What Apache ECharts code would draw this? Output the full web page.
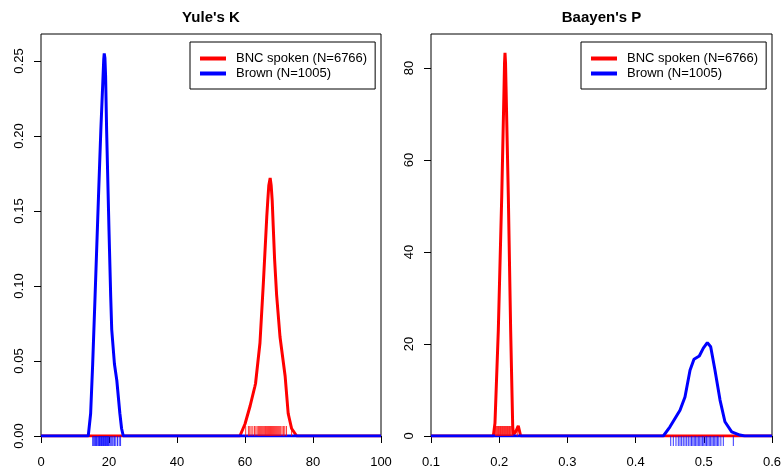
<!DOCTYPE html>
<html>
<head>
<meta charset="utf-8">
<script src="https://cdn.jsdelivr.net/npm/echarts@6/dist/echarts.min.js"></script>
<style>html,body{margin:0;padding:0;background:#fff}#c{width:783px;height:467px}</style>
</head>
<body>
<div id="c"></div>
<script>
// ---- Data ----
const seriesNames = ['BNC spoken (N=6766)', 'Brown (N=1005)'];
const panelTitles = ["Yule's K", "Baayen's P"];

// Yule's K densities
const yuleBncX = [0, 58.5, 60.0, 61.5, 62.9, 63.1, 64.4, 65.4, 65.9, 66.4, 66.7, 67.0, 67.4, 67.7, 68.0, 68.3, 68.7, 69.3, 70.3, 71.8, 72.7, 73.7, 75.2, 100];
const yuleBncY = [0, 0, 0.008, 0.020, 0.033, 0.035, 0.062, 0.102, 0.124, 0.146, 0.157, 0.167, 0.172, 0.167, 0.157, 0.140, 0.118, 0.094, 0.066, 0.040, 0.015, 0.005, 0, 0];
const yuleBrownX = [0, 13.9, 14.6, 15.2, 15.9, 16.9, 17.6, 18.2, 18.45, 18.6, 18.8, 19.0, 19.3, 20.0, 20.5, 20.8, 21.6, 22.3, 23.2, 23.7, 24.2, 100];
const yuleBrownY = [0, 0, 0.015, 0.048, 0.093, 0.159, 0.204, 0.237, 0.251, 0.255, 0.252, 0.240, 0.204, 0.137, 0.093, 0.071, 0.048, 0.037, 0.015, 0.005, 0, 0];

// Baayen's P densities
const baayenBncX = [0.1, 0.1914, 0.1938, 0.1987, 0.2037, 0.207, 0.2078, 0.2085, 0.2093, 0.210, 0.2134, 0.2168, 0.2198, 0.221, 0.2245, 0.228, 0.2315, 0.6];
const baayenBncY = [0, 0, 2.8, 23, 52, 75, 81, 83.3, 81, 76, 52, 23, 2, 0.3, 1.0, 2.2, 0, 0];
const baayenBrownX = [0.1, 0.4406, 0.4504, 0.4651, 0.4724, 0.4798, 0.4856, 0.4934, 0.4993, 0.5052, 0.5101, 0.5164, 0.5238, 0.531, 0.5409, 0.553, 0.56, 0.6];
const baayenBrownY = [0, 0, 2, 5.6, 8.5, 14.3, 16.7, 17.4, 19.1, 20.3, 19.4, 14.3, 7.8, 3.1, 0.9, 0.2, 0, 0];

// Rug values
const yuleBncRug = [60.2, 61.0, 61.4, 61.8, 62.3, 62.8, 63.2, 63.6, 64.0, 64.3, 64.6, 64.9, 65.2, 65.5, 65.8, 66.0, 66.3, 66.6, 66.9, 67.2, 67.5, 67.8, 68.1, 68.4, 68.7, 69.0, 69.3, 69.6, 69.9, 70.2, 70.5, 70.9, 71.3, 71.7, 72.2, 73.7];
const yuleBrownRug = [15.2, 15.5, 15.8, 16.0, 16.3, 16.5, 16.8, 17.0, 17.2, 17.4, 17.6, 17.8, 18.0, 18.2, 18.4, 18.6, 18.8, 19.0, 19.2, 19.4, 19.6, 19.8, 20.0, 20.3, 20.6, 20.9, 21.2, 21.6, 22.0, 22.5, 23.0, 23.4];
const baayenBncRug = [0.1945, 0.196, 0.1975, 0.199, 0.200, 0.201, 0.202, 0.203, 0.204, 0.205, 0.206, 0.207, 0.208, 0.209, 0.210, 0.211, 0.212, 0.213, 0.214, 0.215, 0.216, 0.217, 0.2185, 0.220, 0.2265];
const baayenBrownRug = [0.4515, 0.4553, 0.4592, 0.4626, 0.4651, 0.4675, 0.4699, 0.4724, 0.4749, 0.4773, 0.4798, 0.482, 0.484, 0.486, 0.488, 0.490, 0.492, 0.494, 0.496, 0.498, 0.500, 0.502, 0.504, 0.506, 0.508, 0.510, 0.512, 0.514, 0.516, 0.518, 0.520, 0.522, 0.525, 0.5286, 0.5433];

// Axis ticks
const yuleXTicks = [0, 20, 40, 60, 80, 100];
const yuleYTicks = [0, 0.05, 0.10, 0.15, 0.20, 0.25];
const baayenXTicks = [0.1, 0.2, 0.3, 0.4, 0.5, 0.6];
const baayenYTicks = [0, 20, 40, 60, 80];

// ---- Chart ----
const FONT = "'Liberation Sans', Arial, Helvetica, sans-serif";
const RED = '#ff0000', BLUE = '#0000ff';
const zip = (xs, ys) => xs.map((x, i) => [x, ys[i]]);

function xAxisCfg(grid, min, max, ticks, fmt) {
  return {
    type: 'value', gridIndex: grid, min: min, max: max,
    splitLine: {show: false},
    axisLine: {show: false},
    axisTick: {show: true, length: 7, customValues: ticks, lineStyle: {color: '#000'}},
    axisLabel: {customValues: ticks, formatter: fmt, margin: 20, fontSize: 13, color: '#000', fontFamily: FONT, hideOverlap: false}
  };
}
function yAxisCfg(grid, min, max, ticks, fmt) {
  return {
    type: 'value', gridIndex: grid, min: min, max: max,
    splitLine: {show: false},
    axisLine: {show: false},
    axisTick: {show: true, length: 7, customValues: ticks, lineStyle: {color: '#000'}},
    axisLabel: {customValues: ticks, formatter: fmt, rotate: 90, margin: 15, fontSize: 13, color: '#000', fontFamily: FONT, hideOverlap: false}
  };
}
function lineS(name, xi, data, color) {
  return {type: 'line', name: name, xAxisIndex: xi, yAxisIndex: xi, data: data, symbol: 'none', showSymbol: false,
    lineStyle: {color: color, width: 3}, itemStyle: {color: color}, silent: true, animation: false, clip: true};
}
function rugS(name, xi, vals, color, up) {
  return {type: 'scatter', name: name, xAxisIndex: xi, yAxisIndex: xi, data: vals.map(v => [v, 0]),
    symbol: 'rect', symbolSize: [1, 10], symbolOffset: [0, up ? -5 : 5],
    itemStyle: {color: color}, silent: true, animation: false, clip: false, z: 3};
}
function legendCfg(left) {
  return {
    data: seriesNames.map(n => ({name: n, icon: 'rect'})), orient: 'vertical', left: left, top: 42,
    padding: [9, 8, 8, 10], itemGap: 0, itemWidth: 26, itemHeight: 4,
    borderColor: '#000', borderWidth: 1, selectedMode: false,
    textStyle: {fontSize: 13, lineHeight: 15, color: '#000', fontFamily: FONT, padding: [0, 0, 0, 5]}
  };
}

const chart = echarts.init(document.getElementById('c'), null, {renderer: 'canvas'});
chart.setOption({
  animation: false,
  backgroundColor: '#fff',
  graphic: [
    {type: 'text', x: 211, y: 18, style: {text: panelTitles[0], align: 'center', verticalAlign: 'middle', font: 'bold 15px ' + FONT, fill: '#000'}},
    {type: 'text', x: 601.5, y: 18, style: {text: panelTitles[1], align: 'center', verticalAlign: 'middle', font: 'bold 15px ' + FONT, fill: '#000'}}
  ],
  legend: [legendCfg(190), legendCfg(581)],
  grid: [
    {left: 41, top: 34, width: 340, height: 402, containLabel: false, outerBoundsMode: 'none', show: true, borderColor: '#000', borderWidth: 1, backgroundColor: 'transparent'},
    {left: 431, top: 34, width: 341, height: 402, containLabel: false, outerBoundsMode: 'none', show: true, borderColor: '#000', borderWidth: 1, backgroundColor: 'transparent'}
  ],
  xAxis: [
    xAxisCfg(0, 0, 100, yuleXTicks, v => String(Math.round(v))),
    xAxisCfg(1, 0.1, 0.6, baayenXTicks, v => v.toFixed(1))
  ],
  yAxis: [
    yAxisCfg(0, 0, 0.268, yuleYTicks, v => v.toFixed(2)),
    yAxisCfg(1, 0, 87.4, baayenYTicks, v => String(Math.round(v)))
  ],
  series: [
    lineS(seriesNames[0], 0, zip(yuleBncX, yuleBncY), RED),
    lineS(seriesNames[1], 0, zip(yuleBrownX, yuleBrownY), BLUE),
    rugS(seriesNames[0], 0, yuleBncRug, RED, true),
    rugS(seriesNames[1], 0, yuleBrownRug, BLUE, false),
    lineS(seriesNames[0], 1, zip(baayenBncX, baayenBncY), RED),
    lineS(seriesNames[1], 1, zip(baayenBrownX, baayenBrownY), BLUE),
    rugS(seriesNames[0], 1, baayenBncRug, RED, true),
    rugS(seriesNames[1], 1, baayenBrownRug, BLUE, false)
  ]
});
</script>
</body>
</html>
